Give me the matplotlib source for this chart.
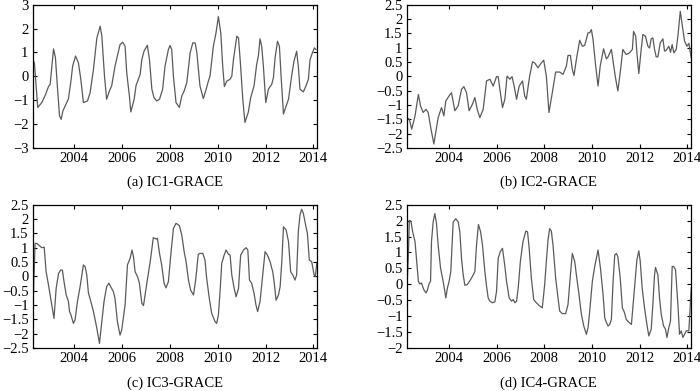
import matplotlib
matplotlib.use("Agg")
import matplotlib.pyplot as plt

# ---------------- data ----------------
t_ic1 = [2002.27, 2002.34, 2002.48, 2002.65, 2002.79, 2002.93, 2003.00, 2003.14, 2003.22, 2003.30,
         2003.39, 2003.46, 2003.53, 2003.69, 2003.76, 2003.86, 2003.94, 2004.06, 2004.18, 2004.28,
         2004.39, 2004.56, 2004.67, 2004.81, 2004.95, 2005.09, 2005.16, 2005.27, 2005.36, 2005.48,
         2005.57, 2005.71, 2005.92, 2006.03, 2006.13, 2006.20, 2006.31, 2006.37, 2006.51, 2006.59,
         2006.76, 2006.83, 2006.92, 2007.06, 2007.15, 2007.25, 2007.34, 2007.45, 2007.57, 2007.70,
         2007.80, 2007.94, 2008.01, 2008.08, 2008.15, 2008.26, 2008.40, 2008.50, 2008.60, 2008.71,
         2008.85, 2008.96, 2009.06, 2009.13, 2009.26, 2009.40, 2009.52, 2009.61, 2009.68, 2009.82,
         2009.93, 2010.03, 2010.13, 2010.21, 2010.28, 2010.38, 2010.52, 2010.59, 2010.66, 2010.80,
         2010.87, 2010.94, 2011.05, 2011.14, 2011.28, 2011.38, 2011.52, 2011.63, 2011.70, 2011.77,
         2011.84, 2011.91, 2012.01, 2012.12, 2012.26, 2012.33, 2012.40, 2012.50, 2012.58, 2012.65,
         2012.75, 2012.86, 2012.96, 2013.09, 2013.19, 2013.30, 2013.37, 2013.44, 2013.58, 2013.69,
         2013.79, 2013.86, 2013.96, 2014.04, 2014.11]
v_ic1 = [0.7, 0.57, -1.3, -1.1, -0.8, -0.43, -0.33, 1.15, 0.78, -0.4,
         -1.65, -1.8, -1.45, -1.1, -0.95, -0.26, 0.43, 0.85, 0.57, -0.12,
         -1.1, -1.03, -0.68, 0.3, 1.6, 2.1, 1.68, 0.01, -0.96, -0.6,
         -0.4, 0.43, 1.33, 1.43, 1.26, 0.15, -0.82, -1.49, -0.96, -0.38,
         0.08, 0.7, 1.05, 1.3, 0.7, -0.54, -0.89, -1.03, -0.96, -0.54,
         0.43, 1.12, 1.29, 1.12, 0.01, -1.1, -1.3, -0.82, -0.61, -0.26,
         0.99, 1.4, 1.4, 0.99, -0.4, -0.93, -0.54, -0.2, 0.01, 1.26,
         1.82, 2.5, 1.82, 0.43, -0.43, -0.2, -0.12, 0.01, 0.7, 1.68,
         1.61, 0.7, -0.96, -1.93, -1.5, -0.89, -0.4, 0.5, 0.85, 1.57,
         1.26, 0.43, -1.1, -0.54, -0.33, -0.05, 0.78, 1.47, 1.26, 0.01,
         -1.58, -1.24, -0.96, 0.01, 0.64, 1.05, 0.43, -0.54, -0.65, -0.4,
         -0.12, 0.7, 0.99, 1.19, 1.12]

t_ic2 = [2002.23, 2002.34, 2002.44, 2002.58, 2002.72, 2002.81, 2002.92, 2003.04, 2003.13, 2003.25,
         2003.37, 2003.46, 2003.55, 2003.69, 2003.79, 2003.87, 2004.01, 2004.11, 2004.25, 2004.39,
         2004.53, 2004.63, 2004.74, 2004.85, 2004.99, 2005.09, 2005.19, 2005.30, 2005.44, 2005.58,
         2005.72, 2005.86, 2006.00, 2006.07, 2006.14, 2006.25, 2006.35, 2006.44, 2006.56, 2006.65,
         2006.74, 2006.84, 2006.95, 2007.09, 2007.18, 2007.25, 2007.39, 2007.51, 2007.60, 2007.74,
         2007.88, 2007.98, 2008.09, 2008.20, 2008.34, 2008.48, 2008.65, 2008.79, 2008.93, 2009.00,
         2009.10, 2009.18, 2009.25, 2009.35, 2009.49, 2009.60, 2009.70, 2009.84, 2009.91, 2009.98,
         2010.05, 2010.16, 2010.26, 2010.35, 2010.49, 2010.61, 2010.68, 2010.82, 2010.89, 2010.98,
         2011.09, 2011.19, 2011.30, 2011.44, 2011.58, 2011.70, 2011.75, 2011.84, 2011.89, 2011.97,
         2012.07, 2012.14, 2012.25, 2012.35, 2012.42, 2012.49, 2012.56, 2012.63, 2012.70, 2012.77,
         2012.87, 2012.98, 2013.05, 2013.12, 2013.23, 2013.30, 2013.37, 2013.44, 2013.54, 2013.61,
         2013.71, 2013.79, 2013.89, 2013.99, 2014.07, 2014.17]
v_ic2 = [-1.44, -1.5, -1.84, -1.38, -0.63, -1.03, -1.26, -1.15, -1.26, -1.84,
         -2.36, -1.9, -1.44, -1.09, -1.38, -0.86, -0.68, -0.57, -1.2, -1.03,
         -0.45, -0.36, -0.57, -1.2, -0.97, -0.74, -1.15, -1.44, -1.15, -0.16,
         -0.1, -0.34, -0.01, -0.01, -0.45, -1.09, -0.8, 0.01, -0.1, -0.01,
         -0.34, -0.8, -0.34, -0.16, -0.68, -0.8, 0.01, 0.51, 0.47, 0.3,
         0.47, 0.56, 0.01, -1.26, -0.57, 0.15, 0.15, 0.07, 0.36, 0.73,
         0.73, 0.24, 0.03, 0.59, 1.26, 1.05, 1.08, 1.52, 1.52, 1.63,
         1.28, 0.36, -0.34, 0.36, 0.96, 0.61, 0.68, 0.94, 0.53, 0.01,
         -0.51, 0.13, 0.94, 0.76, 0.82, 0.94, 1.57, 1.4, 0.82, 0.1,
         0.94, 1.46, 1.4, 1.05, 0.99, 1.31, 1.34, 0.94, 0.68, 0.68,
         1.17, 1.31, 0.88, 0.91, 1.05, 0.84, 1.11, 0.82, 0.94, 1.4,
         2.27, 1.8, 1.23, 1.05, 1.15, 0.65]

t_ic3 = [2002.27, 2002.30, 2002.37, 2002.44, 2002.55, 2002.65, 2002.75, 2002.83, 2002.93, 2003.07,
         2003.16, 2003.25, 2003.35, 2003.44, 2003.51, 2003.58, 2003.67, 2003.76, 2003.81, 2003.87,
         2003.97, 2004.04, 2004.14, 2004.25, 2004.39, 2004.46, 2004.53, 2004.60, 2004.70, 2004.81,
         2004.95, 2005.06, 2005.16, 2005.25, 2005.36, 2005.45, 2005.57, 2005.64, 2005.71, 2005.81,
         2005.92, 2005.99, 2006.13, 2006.23, 2006.34, 2006.42, 2006.48, 2006.55, 2006.65, 2006.73,
         2006.83, 2006.90, 2007.04, 2007.18, 2007.31, 2007.43, 2007.48, 2007.57, 2007.66, 2007.76,
         2007.84, 2007.94, 2008.04, 2008.15, 2008.26, 2008.40, 2008.50, 2008.60, 2008.68, 2008.78,
         2008.87, 2008.99, 2009.08, 2009.19, 2009.26, 2009.38, 2009.47, 2009.54, 2009.65, 2009.75,
         2009.89, 2009.96, 2010.03, 2010.10, 2010.17, 2010.27, 2010.35, 2010.45, 2010.52, 2010.59,
         2010.69, 2010.77, 2010.87, 2010.96, 2011.08, 2011.19, 2011.26, 2011.33, 2011.42, 2011.52,
         2011.60, 2011.67, 2011.77, 2011.88, 2011.98, 2012.08, 2012.19, 2012.30, 2012.36, 2012.44,
         2012.54, 2012.61, 2012.68, 2012.75, 2012.86, 2012.96, 2013.05, 2013.14, 2013.23, 2013.30,
         2013.37, 2013.44, 2013.51, 2013.58, 2013.69, 2013.75, 2013.83, 2013.93, 2014.03, 2014.08,
         2014.14]
v_ic3 = [-0.88, -0.65, 1.15, 1.15, 1.07, 1.0, 1.02, 0.16, -0.3, -1.0,
         -1.47, -0.42, 0.1, 0.22, 0.22, -0.19, -0.65, -0.86, -1.23, -1.35,
         -1.64, -1.52, -0.88, -0.36, 0.4, 0.34, 0.05, -0.59, -0.88, -1.23,
         -1.81, -2.34, -1.58, -0.88, -0.36, -0.24, -0.42, -0.53, -0.77, -1.58,
         -2.05, -1.87, -1.0, 0.4, 0.63, 0.92, 0.69, 0.16, -0.01, -0.24,
         -0.94, -1.02, -0.24, 0.51, 1.35, 1.3, 1.33, 0.8, 0.4, -0.24,
         -0.4, -0.19, 0.74, 1.67, 1.85, 1.77, 1.44, 0.86, 0.51, -0.13,
         -0.48, -0.65, -0.13, 0.77, 0.8, 0.8, 0.57, -0.07, -0.77, -1.29,
         -1.58, -1.64, -1.35, -0.53, 0.45, 0.74, 0.92, 0.77, 0.74, 0.05,
         -0.42, -0.71, -0.42, 0.74, 0.92, 1.0, 0.92, -0.13, -0.24, -0.59,
         -1.0, -1.23, -0.88, 0.05, 0.86, 0.74, 0.51, 0.16, -0.19, -0.83,
         -0.65, -0.36, 0.51, 1.73, 1.62, 1.21, 0.16, 0.05, -0.13, 0.05,
         1.56, 2.14, 2.34, 2.2, 1.73, 1.5, 0.57, 0.51, 0.05, -0.01,
         0.45]

t_ic4 = [2002.25, 2002.30, 2002.34, 2002.41, 2002.48, 2002.58, 2002.65, 2002.72, 2002.78, 2002.85,
         2002.95, 2003.04, 2003.09, 2003.18, 2003.23, 2003.27, 2003.34, 2003.41, 2003.48, 2003.55,
         2003.65, 2003.76, 2003.83, 2003.87, 2003.94, 2004.01, 2004.08, 2004.18, 2004.29, 2004.39,
         2004.46, 2004.53, 2004.60, 2004.67, 2004.77, 2004.88, 2004.99, 2005.09, 2005.16, 2005.24,
         2005.33, 2005.41, 2005.51, 2005.58, 2005.65, 2005.72, 2005.83, 2005.93, 2006.00, 2006.07,
         2006.16, 2006.25, 2006.35, 2006.42, 2006.53, 2006.63, 2006.70, 2006.77, 2006.84, 2006.91,
         2007.00, 2007.11, 2007.23, 2007.30, 2007.37, 2007.46, 2007.56, 2007.67, 2007.81, 2007.92,
         2008.02, 2008.09, 2008.16, 2008.23, 2008.30, 2008.37, 2008.48, 2008.58, 2008.65, 2008.76,
         2008.90, 2009.00, 2009.10, 2009.18, 2009.28, 2009.35, 2009.46, 2009.56, 2009.66, 2009.77,
         2009.84, 2009.91, 2010.02, 2010.12, 2010.26, 2010.36, 2010.47, 2010.54, 2010.61, 2010.68,
         2010.75, 2010.82, 2010.89, 2010.96, 2011.03, 2011.09, 2011.19, 2011.28, 2011.37, 2011.44,
         2011.56, 2011.66, 2011.73, 2011.84, 2011.89, 2011.97, 2012.03, 2012.11, 2012.21, 2012.31,
         2012.39, 2012.49, 2012.56, 2012.63, 2012.67, 2012.77, 2012.84, 2012.91, 2013.01, 2013.09,
         2013.15, 2013.23, 2013.30, 2013.37, 2013.43, 2013.51, 2013.61, 2013.68, 2013.75, 2013.82,
         2013.89, 2013.96, 2014.07, 2014.13, 2014.17]
v_ic4 = [0.04, 0.92, 2.01, 1.98, 1.65, 1.34, 0.72, 0.09, 0.01, 0.04,
         -0.17, -0.27, -0.2, 0.04, 0.09, 1.34, 1.96, 2.22, 1.91, 1.23,
         0.51, 0.09, -0.22, -0.43, -0.11, 0.09, 0.4, 1.96, 2.06, 1.96,
         1.65, 0.82, 0.3, -0.03, -0.01, 0.11, 0.25, 0.4, 1.23, 1.88,
         1.65, 1.23, 0.4, -0.06, -0.43, -0.53, -0.58, -0.55, -0.22, 0.82,
         1.03, 1.13, 0.56, 0.09, -0.43, -0.53, -0.48, -0.58, -0.53, -0.11,
         0.72, 1.34, 1.67, 1.65, 1.13, 0.2, -0.48, -0.58, -0.68, -0.74,
         -0.01, 0.72, 1.39, 1.75, 1.67, 1.23, 0.2, -0.43, -0.84, -0.92,
         -0.92, -0.63, 0.3, 0.97, 0.72, 0.3, -0.32, -0.94, -1.31, -1.57,
         -1.36, -0.84, 0.09, 0.56, 1.08, 0.51, -0.32, -1.05, -1.2, -1.31,
         -1.26, -1.1, 0.09, 0.92, 0.97, 0.87, 0.2, -0.74, -0.89, -1.1,
         -1.2, -1.26, -0.63, 0.4, 0.77, 1.05, 0.72, -0.11, -0.74, -1.26,
         -1.62, -1.41, -0.63, 0.3, 0.53, 0.3, -0.43, -0.94, -1.31, -1.41,
         -1.67, -1.36, -1.15, 0.56, 0.56, 0.46, -0.63, -1.57, -1.46, -1.67,
         -1.57, -1.46, -1.46, -0.63, -0.11]

captions = ["(a) IC1-GRACE", "(b) IC2-GRACE", "(c) IC3-GRACE", "(d) IC4-GRACE"]
x_ticks = [2004, 2006, 2008, 2010, 2012, 2014]
y_ticks_a = [-3, -2, -1, 0, 1, 2, 3]
y_ticks_b = [-2.5, -2, -1.5, -1, -0.5, 0, 0.5, 1, 1.5, 2, 2.5]
y_ticks_c = [-2.5, -2, -1.5, -1, -0.5, 0, 0.5, 1, 1.5, 2, 2.5]
y_ticks_d = [-2, -1.5, -1, -0.5, 0, 0.5, 1, 1.5, 2, 2.5]

# ---------------- plotting ----------------
plt.rcParams['font.family'] = ['Liberation Serif', 'DejaVu Serif']
plt.rcParams['font.size'] = 10.5

fig = plt.figure(figsize=(7.0, 3.91), dpi=100)
W, H = 700.0, 391.0

def add_axes(l, r, t, b):
    return fig.add_axes([l / W, 1 - b / H, (r - l) / W, (b - t) / H])

panels = [
    (add_axes(32.7, 316.5, 4.7, 148.0), t_ic1, v_ic1, (2002.27, 2014.13), (-3, 3), y_ticks_a, 182),
    (add_axes(406.7, 691.0, 4.7, 148.0), t_ic2, v_ic2, (2002.23, 2014.16), (-2.5, 2.5), y_ticks_b, 182),
    (add_axes(32.7, 316.5, 204.7, 348.0), t_ic3, v_ic3, (2002.27, 2014.13), (-2.5, 2.5), y_ticks_c, 383),
    (add_axes(406.7, 691.0, 204.7, 348.0), t_ic4, v_ic4, (2002.23, 2014.16), (-2, 2.5), y_ticks_d, 383),
]

def fmt(v):
    if float(v).is_integer():
        s = str(int(v))
    else:
        s = ("%g" % v)
    return s.replace("-", "\u2212")

for (ax, t, v, xl, yl, yt, cap_y), cap in zip(panels, captions):
    ax.plot(t, v, color='#5a5a5a', lw=0.9)
    ax.set_xlim(*xl)
    ax.set_ylim(*yl)
    ax.set_xticks(x_ticks)
    ax.set_xticklabels([str(x) for x in x_ticks])
    ax.set_yticks(yt)
    ax.set_yticklabels([fmt(y) for y in yt])
    ax.tick_params(direction='in', length=3, width=0.8, top=True, right=True,
                   labelsize=10.5, pad=3)
    for s in ax.spines.values():
        s.set_linewidth(0.9)
    pos = ax.get_position()
    fig.text(pos.x0 + pos.width / 2, 1 - cap_y / H, cap, ha='center', va='center',
             fontsize=10.5)

fig.savefig("out.png", dpi=100)
